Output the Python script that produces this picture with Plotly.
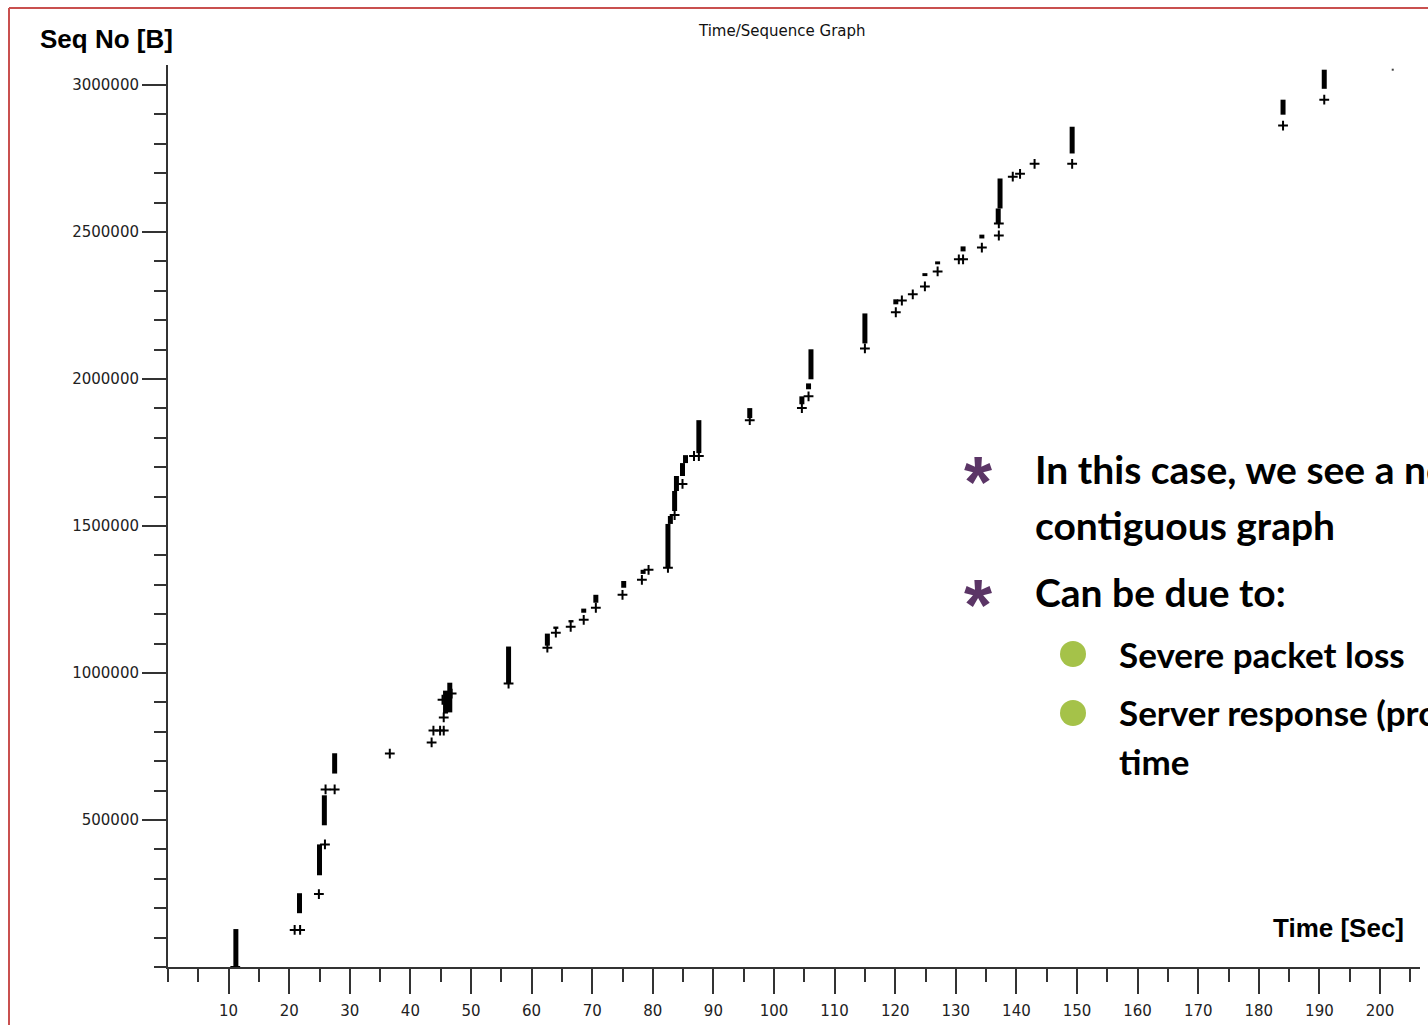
import plotly.graph_objects as go

# ---------------- data ----------------
# vertical runs of segments (time [s], seq low, seq high [bytes])
bar_time = [11.2, 21.7, 25.0, 25.8, 27.5, 45.8, 46.5, 56.2, 62.6, 64.0, 66.5, 68.6, 70.6,
            75.2, 78.4, 82.5, 82.9, 83.6, 83.9, 84.9, 85.4, 87.6, 96.0, 104.6, 105.7, 106.1,
            115.0, 120.1, 124.9, 127.0, 131.2, 134.3, 137.0, 137.3, 149.2, 184.0, 190.8]
bar_lo = [0, 183000, 312000, 482000, 658000, 862000, 866000, 964000, 1093000, 1150000,
          1172000, 1205000, 1239000, 1290000, 1337000, 1358000, 1507000, 1551000, 1619000,
          1670000, 1714000, 1748000, 1867000, 1914000, 1965000, 1999000, 2121000, 2254000,
          2350000, 2390000, 2434000, 2478000, 2529000, 2580000, 2767000, 2899000, 2987000]
bar_hi = [129000, 251000, 417000, 584000, 727000, 940000, 967000, 1090000, 1134000, 1158000,
          1180000, 1219000, 1266000, 1313000, 1351000, 1507000, 1534000, 1619000, 1670000,
          1714000, 1741000, 1860000, 1901000, 1941000, 1985000, 2101000, 2223000, 2271000,
          2360000, 2400000, 2451000, 2491000, 2580000, 2682000, 2858000, 2950000, 3052000]

# single packets drawn as "+"
pt_time = [11.1, 20.9, 21.8, 24.9, 25.9, 26.0, 27.5, 36.6, 43.5, 43.8, 44.9, 45.5, 45.5,
           45.3, 46.8, 56.2, 62.6, 64.0, 66.45, 68.6, 70.6, 75.0, 78.2, 79.3, 82.5, 83.6,
           84.9, 86.8, 87.6, 96.0, 104.6, 105.7, 115.0, 120.1, 121.1, 122.9, 124.9, 127.0,
           130.5, 131.2, 134.3, 137.1, 137.1, 139.4, 140.6, 143.0, 149.2, 184.0, 190.8]
pt_seq = [0, 126000, 126000, 248000, 417000, 604000, 604000, 726000, 764000, 804000, 804000,
          804000, 849000, 909000, 930000, 964000, 1086000, 1137000, 1157000, 1181000, 1222000,
          1266000, 1317000, 1351000, 1358000, 1537000, 1643000, 1738000, 1738000, 1860000,
          1901000, 1941000, 2104000, 2227000, 2267000, 2288000, 2315000, 2366000, 2407000,
          2407000, 2447000, 2488000, 2529000, 2688000, 2698000, 2732000, 2732000, 2862000,
          2950000]

dot_time = [202.1]
dot_seq = [3052000]

x_ticks = list(range(10, 201, 10))
y_ticks = [500000, 1000000, 1500000, 2000000, 2500000, 3000000]

title_text = "Time/Sequence Graph"
y_title = "Seq No [B]"
x_title = "Time [Sec]"
bullets = ["In this case, we see a non", "contiguous graph", "Can be due to:"]
sub_bullets = ["Severe packet loss", "Server response (processing)", "time"]

# ---------------- layout helpers ----------------
W, H = 1428, 1025
L, R, T, B = 168, 1420, 65, 967


def xp(px):
    return (px - L) / (R - L)


def yp(py):
    return (B - py) / (B - T)


# build segments
seg_x, seg_y = [], []
for t, lo, hi in zip(bar_time, bar_lo, bar_hi):
    seg_x += [t, t, None]
    seg_y += [lo, hi, None]

fig = go.Figure()
fig.add_trace(go.Scatter(x=seg_x, y=seg_y, mode="lines",
                         line=dict(color="black", width=5), hoverinfo="skip",
                         showlegend=False))
fig.add_trace(go.Scatter(x=pt_time, y=pt_seq, mode="markers",
                         marker=dict(symbol="cross-thin", size=7,
                                     line=dict(color="black", width=2)),
                         showlegend=False))
fig.add_trace(go.Scatter(x=dot_time, y=dot_seq, mode="markers",
                         marker=dict(symbol="square", size=2, color="#444"),
                         showlegend=False))

tick_font = dict(family="DejaVu Sans", size=15, color="#222")
fig.update_xaxes(range=[0, 206.6], tickvals=x_ticks, ticktext=[str(v) for v in x_ticks],
                 ticks="outside", ticklen=25, tickwidth=2, tickcolor="#333",
                 ticklabelstandoff=4, automargin=False,
                 showline=True, linecolor="#333", linewidth=2, showgrid=False,
                 zeroline=False, tickfont=tick_font,
                 minor=dict(dtick=5, tick0=0, ticks="outside", ticklen=13, tickwidth=2,
                            tickcolor="#333", showgrid=False))
fig.update_yaxes(range=[0, 3068000], tickvals=y_ticks, ticktext=[str(v) for v in y_ticks],
                 ticks="outside", ticklen=24, tickwidth=2, tickcolor="#333",
                 automargin=False,
                 showline=True, linecolor="#333", linewidth=2, showgrid=False,
                 zeroline=False, tickfont=tick_font,
                 minor=dict(dtick=100000, tick0=0, ticks="outside", ticklen=12, tickwidth=2,
                            tickcolor="#333", showgrid=False))

ann = []
ann.append(dict(text=title_text, x=xp(782), y=yp(31), xref="paper", yref="paper",
                xanchor="center", yanchor="middle", showarrow=False,
                font=dict(family="DejaVu Sans", size=15, color="#111")))
ann.append(dict(text=y_title, x=xp(38), y=yp(39), xref="paper", yref="paper",
                xanchor="left", yanchor="middle", showarrow=False,
                font=dict(family="Liberation Sans", size=26, color="black", weight="bold")))
ann.append(dict(text=x_title, x=xp(1406), y=yp(928), xref="paper", yref="paper",
                xanchor="right", yanchor="middle", showarrow=False,
                font=dict(family="Liberation Sans", size=26, color="black", weight="bold")))

big_font = dict(family="Lato", size=39, color="black", weight="bold")
sub_font = dict(family="Lato", size=35, color="black", weight="bold")
for txt, py in zip(bullets, [469, 525, 592]):
    ann.append(dict(text=txt, x=xp(1033), y=yp(py), xref="paper", yref="paper",
                    xanchor="left", yanchor="middle", showarrow=False, font=big_font))
for txt, py in zip(sub_bullets, [654, 712, 761]):
    ann.append(dict(text=txt, x=xp(1117), y=yp(py), xref="paper", yref="paper",
                    xanchor="left", yanchor="middle", showarrow=False, font=sub_font))
# purple asterisks
for py in [471, 594]:
    ann.append(dict(text="*", x=xp(978), y=yp(py + 11), xref="paper", yref="paper",
                    xanchor="center", yanchor="middle", showarrow=False,
                    font=dict(family="Liberation Sans", size=72, color="#5B3566",
                              weight="bold")))

shapes = []
for py in [654, 713]:
    shapes.append(dict(type="circle", xref="paper", yref="paper",
                       xsizemode="pixel", ysizemode="pixel",
                       xanchor=xp(1073), yanchor=yp(py), x0=-13, x1=13, y0=-13, y1=13,
                       fillcolor="#A5C249", line=dict(width=0)))
# slide border (red)
shapes.append(dict(type="line", xref="paper", yref="paper", x0=xp(9), x1=xp(9),
                   y0=yp(8), y1=yp(1030), line=dict(color="#C9504F", width=2)))
shapes.append(dict(type="line", xref="paper", yref="paper", x0=xp(9), x1=xp(1440),
                   y0=yp(8), y1=yp(8), line=dict(color="#C9504F", width=2)))

fig.update_layout(width=W, height=H, margin=dict(l=L, r=W - R, t=T, b=H - B),
                  paper_bgcolor="white", plot_bgcolor="white",
                  annotations=ann, shapes=shapes, showlegend=False)

fig.write_html("out.html")
